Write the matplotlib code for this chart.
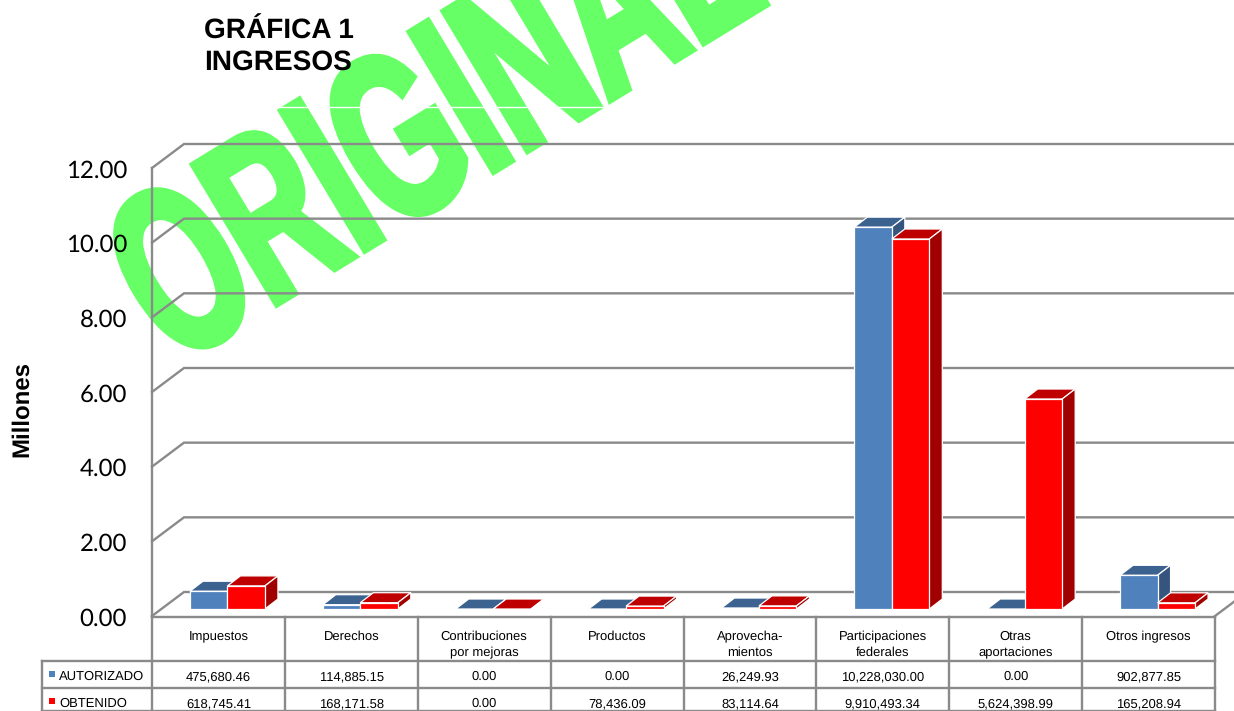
import matplotlib
matplotlib.use("Agg")
import matplotlib.pyplot as plt
import matplotlib.patheffects as pe
from matplotlib.patches import Polygon
from matplotlib.transforms import Affine2D, IdentityTransform

plt.rcParams["text.hinting"] = "no_hinting"
plt.rcParams["text.hinting_factor"] = 1

# ---- data ----
categories = ["Impuestos", "Derechos", "Contribuciones\npor mejoras", "Productos",
              "Aprovecha-\nmientos", "Participaciones\nfederales", "Otras\naportaciones",
              "Otros ingresos"]
autorizado = [475680.46, 114885.15, 0.00, 0.00, 26249.93, 10228030.00, 0.00, 902877.85]
obtenido = [618745.41, 168171.58, 0.00, 78436.09, 83114.64, 9910493.34, 5624398.99, 165208.94]
y_ticks = [0, 2, 4, 6, 8, 10, 12]
series_names = ["AUTORIZADO", "OBTENIDO"]
title_text = "GRÁFICA 1\nINGRESOS"
y_label = "Millones"
stamp = "ORIGINAL"

# ---- styles ----
W, H = 1234, 711
GRAY = "#8A8A8A"
LW = 1.7
BLUE = ("#4F81BD", "#3C6290", "#35557F")
RED = ("#FF0000", "#BF0000", "#A00000")
GREEN = "#66FF66"
SANS = "Liberation Sans"

fig = plt.figure(figsize=(W / 100, H / 100), dpi=100, facecolor="white")
L, R, T0, B0 = 152, 1215, 168, 616
ax = fig.add_axes([L / W, 1 - B0 / H, (R - L) / W, (B0 - T0) / H])
ax.set_xlim(0, len(categories))
ax.set_ylim(0, 12)
ax.patch.set_visible(False)
for s in ax.spines.values():
    s.set_visible(False)
ax.set_xticks([])
ax.set_yticks(y_ticks)
ax.set_yticklabels([f"{t:.2f}" for t in y_ticks], family="Lato", fontsize=17.2, color="black")
ax.tick_params(axis="y", length=0, pad=18)
for lbl in ax.get_yticklabels():
    lbl.set_transform(lbl.get_transform() + Affine2D().translate(0, -0.8))

PX_X = (R - L) / len(categories)
PX_Y = (B0 - T0) / 12.0


def dx(px):
    return px / PX_X


def ypx(py):
    return (B0 - py) / PX_Y


# ---- watermark: real text, sheared by a path effect ----
class Shear(pe.AbstractPathEffect):
    def __init__(self, matrix, anchor, stroke, color):
        super().__init__()
        self.matrix = matrix
        self.anchor = anchor
        self.stroke = stroke
        self.color = color

    def draw_path(self, renderer, gc, tpath, affine, rgbFace=None):
        a = affine + Affine2D().translate(-self.anchor[0], -self.anchor[1]) \
            + Affine2D.from_values(*self.matrix) + Affine2D().translate(*self.anchor)
        g = renderer.new_gc()
        g.copy_properties(gc)
        g.set_linewidth(self.stroke)
        g.set_foreground(self.color)
        g.set_joinstyle("miter")
        renderer.draw_path(g, tpath, a, rgbFace)
        g.restore()


X0, Y0 = 174, H - 367
sx, sy = 143 / 138.9, 236 / 138.9
ux, uy = 0.853, 0.522
vx, vy = -0.515, 0.857
ax.text(X0, Y0, stamp, transform=IdentityTransform(), family=SANS, weight="bold",
        fontsize=100, color=GREEN, ha="left", va="baseline", zorder=0.5, clip_on=False,
        path_effects=[Shear((sx * ux, sx * uy, sy * vx, sy * vy, 0, 0), (X0, Y0), 5.0, GREEN)])
fig.add_artist(plt.Line2D([278 / W, 606 / W], [1 - 106.5 / H] * 2, color="white", lw=1.0, zorder=1))

# ---- walls and floor ----
DX, DY = dx(32), ypx(B0 - 24)
n = len(categories)
for t in y_ticks:
    ax.plot([0, DX, n + DX], [t, t + DY, t + DY], color=GRAY, lw=LW, zorder=1,
            clip_on=False, solid_joinstyle="miter")
ax.plot([0, 0], [0, 12], color=GRAY, lw=LW, zorder=1.5, clip_on=False)
ax.plot([n, n + DX], [0, DY], color=GRAY, lw=LW, zorder=1, clip_on=False)

# ---- bars ----
BW = dx(37.5)
SHIFT = dx(9)
BASE = ypx(B0 - 7)
DEPTH_X, DEPTH_Y = dx(13), ypx(B0 - 10)
for k, (vals, cols) in enumerate(((autorizado, BLUE), (obtenido, RED))):
    z = 3 + k
    for i, v in enumerate(vals):
        h = v / 1e6
        x0 = i + 0.5 + SHIFT - BW + k * BW
        x1 = x0 + BW
        top = BASE + h
        ax.add_patch(Polygon([(x0, top), (x1, top), (x1 + DEPTH_X, top + DEPTH_Y),
                              (x0 + DEPTH_X, top + DEPTH_Y)], closed=True, fc=cols[1],
                             ec="white", lw=0.9, zorder=z, clip_on=False))
        if h > 0:
            ax.add_patch(Polygon([(x1, BASE), (x1 + DEPTH_X, BASE + DEPTH_Y),
                                  (x1 + DEPTH_X, top + DEPTH_Y), (x1, top)], closed=True,
                                 fc=cols[2], ec="white", lw=0.9, zorder=z, clip_on=False))
            ax.bar(x0, h, width=BW, bottom=BASE, align="edge", color=cols[0],
                   edgecolor="white", linewidth=0.9, zorder=z + 0.1, clip_on=False)

# ---- data table ----
rows = [661, 688, 711]
for py in [617] + rows:
    x_left = 0 if py == 617 else dx(42 - L)
    ax.plot([x_left, n], [ypx(py)] * 2, color=GRAY, lw=LW, zorder=2, clip_on=False)
for i in range(n + 1):
    ax.plot([i, i], [ypx(617), ypx(711)], color=GRAY, lw=LW, zorder=2, clip_on=False)
ax.plot([dx(42 - L)] * 2, [ypx(661), ypx(711)], color=GRAY, lw=LW, zorder=2, clip_on=False)

TXT = dict(family=SANS, fontsize=9.4, color="black", clip_on=False, zorder=6)
for i, c in enumerate(categories):
    ax.text(i + 0.5, ypx(630.5), c, ha="center", va="top", linespacing=1.42, **TXT)
for name, vals, col, base_py in ((series_names[0], autorizado, BLUE[0], 680),
                                 (series_names[1], obtenido, RED[0], 707)):
    ax.plot([dx(52 - L)], [ypx(base_py - 6)], marker="s", ms=4.3, color=col, mew=0, clip_on=False, zorder=6)
    ax.text(dx(59 - L), ypx(base_py), name, ha="left", va="baseline", **TXT)
    for i, v in enumerate(vals):
        ax.text(i + 0.5, ypx(base_py), f"{v:,.2f}", ha="center", va="baseline", **TXT)

# ---- titles ----
fig.text(204 / W, 1 - 18 / H, title_text, family=SANS, weight="bold", fontsize=19.8, color="black",
         ha="left", va="top", linespacing=1.26, zorder=5)
fig.text(22 / W, 1 - 409 / H, y_label, family=SANS, weight="bold", fontsize=17.5, color="black",
         rotation=90, ha="center", va="center", zorder=5)

fig.savefig("out.png", dpi=100, facecolor="white")
